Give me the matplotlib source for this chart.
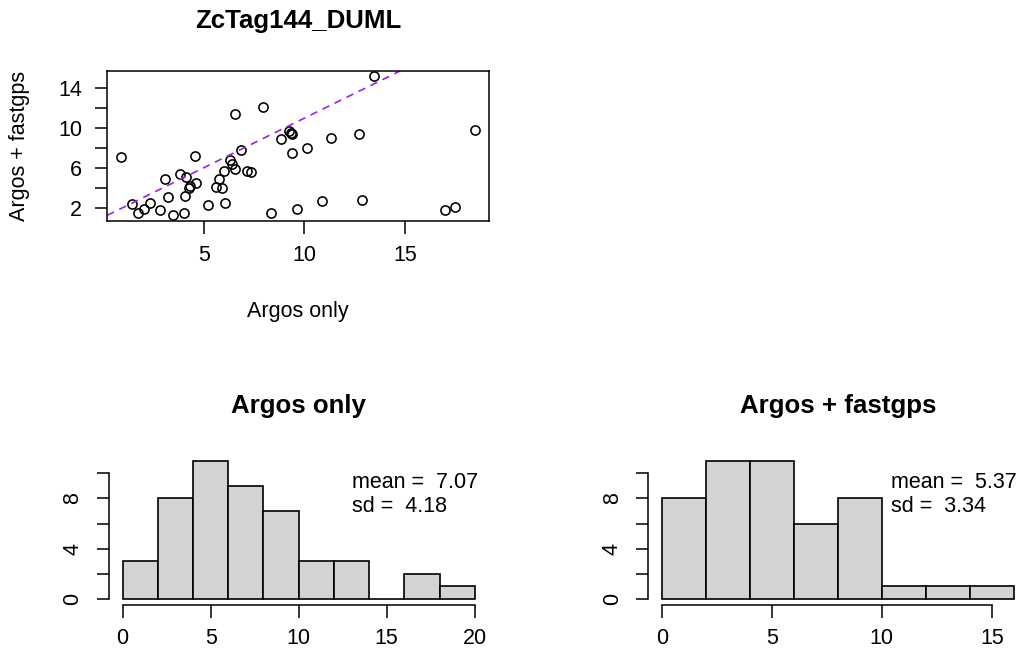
import matplotlib.pyplot as plt

plt.rcParams['font.family'] = ['Liberation Sans', 'DejaVu Sans']

W, H = 1023, 658

tag_name = "ZcTag144_DUML"
x_label = "Argos only"
y_label = "Argos + fastgps"

# distances per track
argos_only = [0.92, 1.42, 1.74, 2.05, 2.36, 2.83, 3.09, 3.24, 3.49, 3.83,
              4.02, 4.09, 4.14, 4.25, 4.32, 4.55, 4.64, 5.23, 5.60, 5.75,
              5.90, 6.00, 6.06, 6.29, 6.39, 6.53, 6.56, 6.84, 7.17, 7.36,
              7.94, 8.35, 8.83, 9.25, 9.31, 9.38, 9.40, 9.63, 10.11, 10.87,
              11.34, 12.73, 12.86, 13.44, 16.96, 17.46, 18.47]
argos_fastgps = [7.17, 2.43, 1.50, 1.97, 2.53, 1.83, 4.97, 3.13, 1.30, 5.43,
                 1.50, 3.27, 5.17, 4.07, 4.20, 7.23, 4.53, 2.37, 4.17, 4.90,
                 4.00, 5.77, 2.53, 6.80, 6.40, 11.37, 5.93, 7.83, 5.73, 5.67,
                 12.07, 1.50, 8.90, 9.67, 9.53, 9.43, 7.57, 1.90, 8.03, 2.70,
                 9.00, 9.43, 2.87, 15.17, 1.83, 2.13, 9.80]

fit_intercept = 1.1
fit_slope = 0.99

# histogram counts
edges_argos = [0, 2, 4, 6, 8, 10, 12, 14, 16, 18, 20]
counts_argos = [3, 8, 11, 9, 7, 3, 3, 0, 2, 1]
edges_fastgps = [0, 2, 4, 6, 8, 10, 12, 14, 16]
counts_fastgps = [8, 11, 11, 6, 8, 1, 1, 1]

mean_argos, sd_argos = 7.07, 4.18
mean_fastgps, sd_fastgps = 5.37, 3.34

FS = 15.5
FS_TITLE = 18.6


def px_rect(l, t, r, b):
    return [l / W, 1 - b / H, (r - l) / W, (b - t) / H]


def px_text(x, y, s, **kw):
    fig.text(x / W, 1 - y / H, s, **kw)


def r_lim(vals):
    lo, hi = min(vals), max(vals)
    pad = (hi - lo) * 0.04
    return lo - pad, hi + pad


fig = plt.figure(figsize=(W / 100, H / 100), dpi=100)

# scatter
ax = fig.add_axes(px_rect(107.3, 70.7, 489.3, 221))
ax.plot(argos_only, argos_fastgps, 'o', mfc='none', mec='black', ms=6.6, mew=1.15)
ax.axline((0, fit_intercept), slope=fit_slope, color='#A020F0', lw=1.2,
          dashes=(4.5, 3.5))
ax.set_xlim(r_lim(argos_only))
ax.set_ylim(r_lim(argos_fastgps))
ax.set_xticks([5, 10, 15])
ax.set_yticks([2, 4, 6, 8, 10, 12, 14])
ax.set_yticklabels(['2', '', '6', '', '10', '', '14'])
ax.tick_params(direction='out', length=9, width=1.1, labelsize=FS, pad=8)
ax.tick_params(axis='y', pad=9)
for s in ax.spines.values():
    s.set_linewidth(1.1)
px_text(298.3, 21, tag_name, ha='center', va='center', fontsize=FS_TITLE, fontweight='bold')
px_text(298.3, 311, x_label, ha='center', va='center', fontsize=FS)
px_text(20, 146, y_label, ha='center', va='center', fontsize=FS, rotation=90)


def hist_panel(rect, edges, counts, xticks, title, mean, sd, txt_x, title_x):
    hx = fig.add_axes(px_rect(*rect))
    lefts = edges[:-1]
    widths = [b - a for a, b in zip(edges[:-1], edges[1:])]
    hx.bar(lefts, counts, width=widths, align='edge', color='#D3D3D3',
           edgecolor='black', lw=1.2)
    lo, hi = edges[0], edges[-1]
    hx.set_xlim(lo - 0.04 * (hi - lo), hi + 0.04 * (hi - lo))
    hx.set_ylim(-0.04 * max(counts), max(counts) * 1.04)
    hx.set_xticks(xticks)
    hx.set_yticks([0, 2, 4, 6, 8, 10])
    hx.set_yticklabels(['0', '', '4', '', '8', ''], rotation=90, va='center')
    hx.spines['top'].set_visible(False)
    hx.spines['right'].set_visible(False)
    hx.spines['left'].set_bounds(0, 10)
    hx.spines['bottom'].set_bounds(xticks[0], xticks[-1])
    for s in hx.spines.values():
        s.set_linewidth(1.1)
    hx.tick_params(direction='out', length=9, width=1.1, labelsize=FS, pad=8)
    hx.tick_params(axis='y', pad=9)
    px_text(title_x, 406, title, ha='center', va='center', fontsize=FS_TITLE, fontweight='bold')
    px_text(txt_x, 483, f"mean =  {mean:.2f}", ha='left', va='center', fontsize=FS)
    px_text(txt_x, 507, f"sd =  {sd:.2f}", ha='left', va='center', fontsize=FS)


hist_panel((108.6, 455.2, 488.8, 604.5), edges_argos, counts_argos,
           [0, 5, 10, 15, 20], x_label, mean_argos, sd_argos, 352, 298.7)
hist_panel((648, 455.2, 1027.8, 604.5), edges_fastgps, counts_fastgps,
           [0, 5, 10, 15], y_label, mean_fastgps, sd_fastgps, 891, 838)

fig.savefig('out.png', dpi=100)
